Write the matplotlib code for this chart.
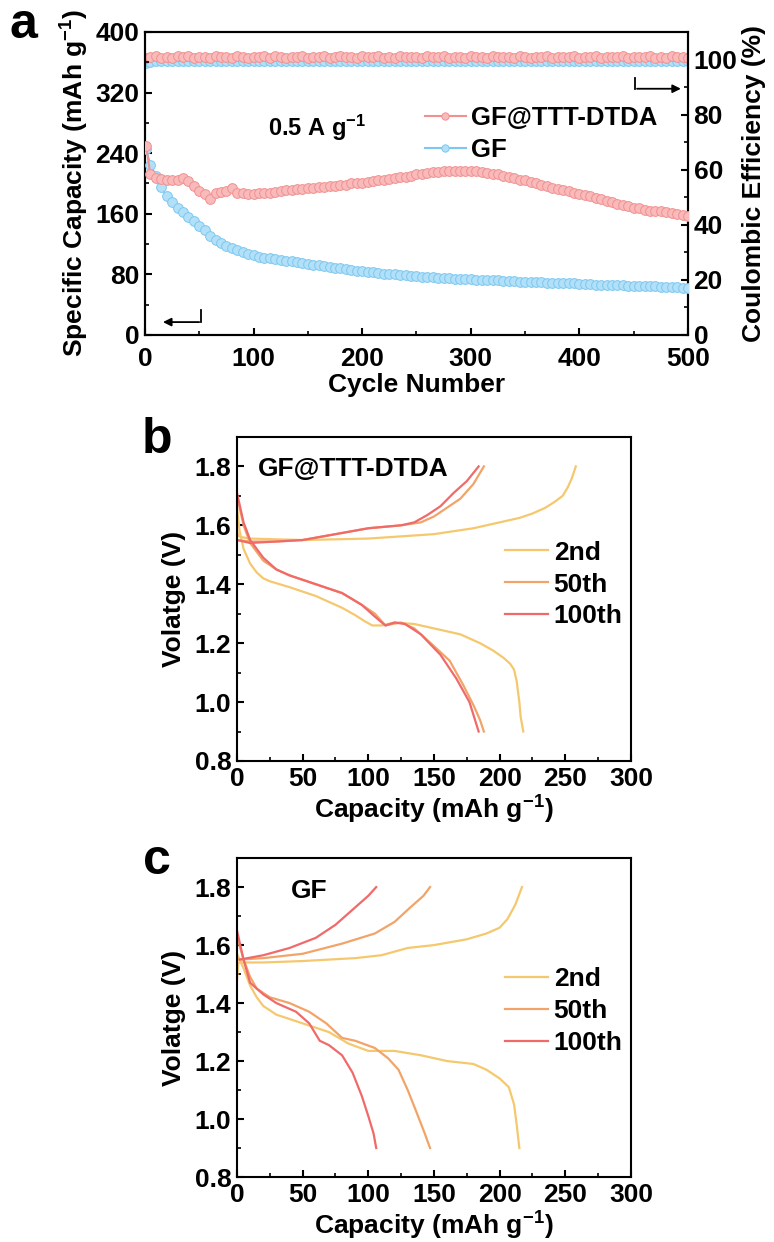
import matplotlib
matplotlib.use("Agg")
import matplotlib.pyplot as plt
import numpy as np

plt.rcParams['font.family'] = ['Liberation Sans', 'DejaVu Sans']
plt.rcParams['font.weight'] = 'bold'
plt.rcParams['mathtext.fontset'] = 'custom'
plt.rcParams['mathtext.rm'] = 'Liberation Sans:bold'
plt.rcParams['mathtext.it'] = 'Liberation Sans:bold'
plt.rcParams['mathtext.bf'] = 'Liberation Sans:bold'
plt.rcParams['mathtext.default'] = 'rm'
plt.rcParams['axes.linewidth'] = 1.5

# ---------------- Panel a data ----------------
cycles = [1] + list(range(5, 501, 5))
cap_ttt = [250, 212, 207, 206, 205, 204, 205, 207, 203, 196, 190, 186, 180, 188, 189, 190, 194, 188, 187, 186,
           186, 187, 188, 188, 189, 190, 191, 192, 193, 193, 194, 194, 195, 195, 196, 197, 198, 198, 200, 200,
           201, 202, 203, 204, 205, 206, 207, 208, 209, 210, 212, 213, 214, 215, 215, 216, 216, 216, 216, 217,
           217, 216, 215, 214, 213, 212, 210, 208, 207, 205, 204, 202, 200, 198, 196, 194, 193, 191, 190, 188,
           186, 185, 183, 181, 179, 177, 175, 173, 171, 170, 168, 167, 165, 164, 164, 163, 162, 161, 160, 158, 157]
cap_gf = [245, 225, 210, 195, 183, 175, 168, 162, 156, 150, 144, 138, 130, 126, 122, 118, 115, 112, 110, 107,
          105, 103, 102, 101, 100, 99, 98, 97, 96, 95, 94, 93, 92, 91, 90, 89, 88, 87, 86, 85,
          84, 83, 82.5, 82, 81, 80.5, 80, 79, 78.5, 78, 77.5, 77, 76.5, 76, 75.5, 75, 75, 74.5, 74, 74,
          73.5, 73, 73, 72.5, 72, 72, 71.5, 71, 71, 70.5, 70, 70, 69.5, 69.5, 69, 69, 68.5, 68, 68, 68,
          67.5, 67, 67, 66.5, 66.5, 66, 66, 65.5, 65.5, 65, 65, 64.5, 64.5, 64, 64, 63.5, 63.5, 63, 63, 62.5, 62]
ce_ttt = [100.4, 100.9, 101.2, 100.7, 101.0, 100.6, 101.1, 100.8, 101.3, 100.7, 100.9, 101.0, 100.6, 101.4, 100.8,
          101.0, 100.7, 101.2, 100.9, 100.6, 101.0, 100.8, 101.1, 100.7, 101.2, 100.9, 100.6, 101.0, 100.8, 101.1,
          100.7, 101.0, 100.9, 101.2, 100.6, 100.9, 101.1, 100.8, 101.0, 100.7, 101.1, 100.8, 100.9, 101.2, 100.7,
          101.0, 100.6, 101.1, 100.9, 100.8, 101.0, 100.7, 101.2, 100.9, 100.8, 101.1, 100.7, 101.0, 100.9, 100.6,
          101.1, 100.8, 101.0, 100.7, 101.2, 100.9, 100.8, 101.0, 100.7, 101.1, 100.9, 100.6, 101.0, 100.8, 101.2,
          100.7, 101.0, 100.9, 100.8, 101.1, 100.7, 101.0, 100.9, 101.2, 100.6, 100.9, 101.0, 100.8, 101.1, 100.7,
          101.0, 100.8, 100.9, 101.2, 100.7, 101.0, 100.6, 101.1, 100.8, 100.9, 100.7]
ce_gf = [98.6, 99.2, 99.4, 99.3, 99.5, 99.4, 99.3, 99.5, 99.4, 99.6, 99.3, 99.4, 99.5, 99.3, 99.4, 99.5, 99.4,
         99.3, 99.5, 99.4, 99.4, 99.5, 99.3, 99.4, 99.5, 99.4, 99.3, 99.5, 99.4, 99.4, 99.5, 99.3, 99.4, 99.5,
         99.4, 99.3, 99.5, 99.4, 99.4, 99.5, 99.3, 99.4, 99.5, 99.4, 99.3, 99.5, 99.4, 99.4, 99.5, 99.3, 99.4,
         99.5, 99.4, 99.3, 99.5, 99.4, 99.4, 99.5, 99.3, 99.4, 99.5, 99.4, 99.3, 99.5, 99.4, 99.4, 99.5, 99.3,
         99.4, 99.5, 99.4, 99.3, 99.5, 99.4, 99.4, 99.5, 99.3, 99.4, 99.5, 99.4, 99.3, 99.5, 99.4, 99.4, 99.5,
         99.3, 99.4, 99.5, 99.4, 99.3, 99.5, 99.4, 99.4, 99.5, 99.3, 99.4, 99.5, 99.4, 99.3, 99.5, 99.4]

# ---------------- Panel b data (GF@TTT-DTDA) ----------------
b2_dis_x = [0, 2, 5, 10, 15, 20, 25, 40, 60, 80, 90, 97, 103, 110, 120, 135, 150, 170, 185, 195, 203, 208, 211, 213, 215, 216, 218]
b2_dis_y = [1.66, 1.58, 1.52, 1.47, 1.44, 1.42, 1.41, 1.39, 1.36, 1.32, 1.295, 1.275, 1.26, 1.26, 1.27, 1.265, 1.25, 1.23, 1.20, 1.175, 1.15, 1.13, 1.11, 1.07, 1.0, 0.95, 0.90]
b2_chg_x = [0, 1, 3, 10, 50, 100, 150, 180, 200, 215, 225, 235, 242, 248, 252, 255, 258]
b2_chg_y = [1.58, 1.565, 1.56, 1.555, 1.55, 1.555, 1.57, 1.59, 1.61, 1.625, 1.64, 1.66, 1.68, 1.70, 1.73, 1.76, 1.80]
b50_dis_x = [0, 5, 10, 20, 30, 40, 60, 80, 95, 105, 113, 118, 125, 135, 150, 162, 172, 180, 185, 188]
b50_dis_y = [1.70, 1.60, 1.54, 1.48, 1.45, 1.43, 1.40, 1.37, 1.33, 1.30, 1.26, 1.265, 1.27, 1.25, 1.19, 1.14, 1.06, 0.99, 0.94, 0.90]
b50_chg_x = [0, 10, 30, 50, 75, 100, 125, 140, 150, 160, 170, 180, 188]
b50_chg_y = [1.55, 1.545, 1.545, 1.55, 1.57, 1.59, 1.60, 1.61, 1.63, 1.66, 1.69, 1.74, 1.80]
b100_dis_x = [0, 5, 10, 20, 30, 40, 60, 80, 95, 105, 113, 120, 128, 140, 155, 167, 177, 184]
b100_dis_y = [1.71, 1.61, 1.55, 1.49, 1.45, 1.43, 1.40, 1.37, 1.33, 1.29, 1.26, 1.27, 1.265, 1.23, 1.16, 1.08, 1.00, 0.90]
b100_chg_x = [0, 10, 30, 50, 75, 100, 125, 135, 145, 155, 165, 175, 184]
b100_chg_y = [1.55, 1.54, 1.545, 1.55, 1.57, 1.59, 1.60, 1.61, 1.635, 1.665, 1.71, 1.75, 1.80]

# ---------------- Panel c data (GF) ----------------
c2_dis_x = [0, 5, 10, 15, 20, 30, 50, 70, 85, 100, 110, 120, 140, 160, 180, 190, 200, 207, 211, 213, 215]
c2_dis_y = [1.57, 1.52, 1.46, 1.42, 1.39, 1.36, 1.33, 1.30, 1.26, 1.235, 1.235, 1.235, 1.22, 1.20, 1.19, 1.17, 1.14, 1.11, 1.05, 0.98, 0.90]
c2_chg_x = [0, 1, 20, 50, 90, 110, 130, 150, 175, 190, 200, 206, 212, 217]
c2_chg_y = [1.48, 1.54, 1.54, 1.545, 1.555, 1.565, 1.59, 1.60, 1.62, 1.64, 1.66, 1.69, 1.74, 1.80]
c50_dis_x = [0, 5, 10, 15, 25, 40, 55, 68, 80, 90, 105, 115, 123, 130, 137, 143, 147]
c50_dis_y = [1.63, 1.55, 1.49, 1.45, 1.42, 1.40, 1.37, 1.33, 1.28, 1.27, 1.245, 1.21, 1.17, 1.10, 1.02, 0.95, 0.90]
c50_chg_x = [2, 20, 50, 80, 105, 120, 132, 142, 147]
c50_chg_y = [1.55, 1.555, 1.57, 1.605, 1.64, 1.68, 1.73, 1.77, 1.80]
c100_dis_x = [0, 5, 10, 20, 30, 45, 55, 63, 70, 80, 88, 95, 100, 104, 106]
c100_dis_y = [1.65, 1.55, 1.47, 1.43, 1.40, 1.37, 1.33, 1.27, 1.255, 1.22, 1.16, 1.08, 1.01, 0.95, 0.90]
c100_chg_x = [2, 20, 40, 60, 75, 90, 100, 106]
c100_chg_y = [1.55, 1.565, 1.59, 1.625, 1.67, 1.73, 1.77, 1.80]

cycle_labels = ['2nd', '50th', '100th']
col_cycles = ['#f5c86e', '#f2a468', '#f06a6a']
pink_face, pink_edge = '#f8baba', '#f29090'
blue_face, blue_edge = '#b2e0f8', '#7cc8f0'

fig = plt.figure(figsize=(7.74, 12.42), dpi=100)

TICK_FS = 19
LAB_FS = 19

# ---------------- Panel a ----------------
ax = fig.add_axes([0.1873, 0.7303, 0.7016, 0.2440])
ax2 = ax.twinx()
ms = 7
ax2.plot(cycles, ce_gf, '-o', color=blue_edge, mfc=blue_face, mec=blue_edge, ms=ms, mew=0.7, lw=1.5)
ax2.plot(cycles, ce_ttt, '-o', color=pink_edge, mfc=pink_face, mec=pink_edge, ms=ms, mew=0.7, lw=1.5)
ax.plot(cycles, cap_gf, '-o', color=blue_edge, mfc=blue_face, mec=blue_edge, ms=ms, mew=0.7, lw=1.5, label='GF', zorder=3)
ax.plot(cycles, cap_ttt, '-o', color=pink_edge, mfc=pink_face, mec=pink_edge, ms=ms, mew=0.7, lw=1.5, label='GF@TTT-DTDA', zorder=4)
ax.set_zorder(ax2.get_zorder() + 1)
ax.patch.set_visible(False)

ax.set_xlim(0, 500)
ax.set_ylim(0, 400)
ax2.set_ylim(0, 110)
ax.set_xticks(range(0, 501, 100))
ax.set_xticks(range(50, 501, 100), minor=True)
ax.set_yticks(range(0, 401, 80))
ax.set_yticks(range(40, 401, 80), minor=True)
ax2.set_yticks(range(0, 101, 20))
ax2.set_yticks(range(10, 111, 20), minor=True)
for a in (ax, ax2):
    a.tick_params(which='major', direction='in', length=5, width=1.5, labelsize=TICK_FS, pad=4)
    a.tick_params(which='minor', direction='in', length=3, width=1.2)
ax.tick_params(axis='x', pad=9)
ax.tick_params(top=False, right=False)
ax.set_xlabel('Cycle Number', fontsize=LAB_FS, fontweight='bold', labelpad=1)
ax.set_ylabel('Specific Capacity (mAh g$^{-1}$)', fontsize=LAB_FS, fontweight='bold', labelpad=3)
ax2.set_ylabel('Coulombic Efficiency (%)', fontsize=LAB_FS, fontweight='bold', labelpad=3)

ax.text(158, 273, '0.5 A g$^{-1}$', fontsize=17, fontweight='bold', ha='center', va='center')

h, l = ax.get_legend_handles_labels()
ax.legend(h[::-1], l[::-1], loc='upper left', bbox_to_anchor=(0.515, 0.755), frameon=False,
          fontsize=18.5, handlelength=1.6, handletextpad=0.2, borderaxespad=0, borderpad=0,
          labelspacing=0.3, numpoints=1, markerscale=0.75)

# arrows
ax.plot([52, 52], [33, 17], color='black', lw=1.3)
ax.annotate('', xy=(14, 17), xytext=(52.5, 17),
            arrowprops=dict(arrowstyle='-|>', color='black', lw=1.3, mutation_scale=12))
ax.plot([451, 451], [339, 325], color='black', lw=1.3)
ax.annotate('', xy=(496, 325), xytext=(450.5, 325),
            arrowprops=dict(arrowstyle='-|>', color='black', lw=1.3, mutation_scale=12))

fig.text(0.012, 0.998, 'a', fontsize=36, fontweight='bold', ha='left', va='top')


def style_vc(axv, title, tx, ty, leg_top):
    axv.set_xlim(0, 300)
    axv.set_ylim(0.8, 1.9)
    axv.set_xticks(range(0, 301, 50))
    axv.set_xticks(range(25, 301, 50), minor=True)
    axv.set_yticks([0.8, 1.0, 1.2, 1.4, 1.6, 1.8])
    axv.set_yticks([0.9, 1.1, 1.3, 1.5, 1.7], minor=True)
    axv.set_yticklabels(['0.8', '1.0', '1.2', '1.4', '1.6', '1.8'])
    axv.tick_params(which='major', direction='in', length=5, width=1.5, labelsize=TICK_FS, pad=4)
    axv.tick_params(which='minor', direction='in', length=3, width=1.2)
    axv.set_xlabel('Capacity (mAh g$^{-1}$)', fontsize=LAB_FS, fontweight='bold', labelpad=2)
    axv.set_ylabel('Volatge (V)', fontsize=LAB_FS, fontweight='bold', labelpad=6)
    axv.text(tx, ty, title, fontsize=19, fontweight='bold', ha='left', va='center')
    axv.legend(loc='upper left', bbox_to_anchor=(0.68, leg_top), frameon=False, fontsize=19,
               handlelength=1.65, handletextpad=0.2, borderaxespad=0, borderpad=0, labelspacing=0.3)


# ---------------- Panel b ----------------
axb = fig.add_axes([0.3062, 0.3873, 0.5090, 0.2609])
axb.plot(b2_dis_x, b2_dis_y, color=col_cycles[0], lw=1.6, label=cycle_labels[0])
axb.plot(b2_chg_x, b2_chg_y, color=col_cycles[0], lw=1.6)
axb.plot(b50_dis_x, b50_dis_y, color=col_cycles[1], lw=1.6, label=cycle_labels[1])
axb.plot(b50_chg_x, b50_chg_y, color=col_cycles[1], lw=1.6)
axb.plot(b100_dis_x, b100_dis_y, color=col_cycles[2], lw=1.6, label=cycle_labels[2])
axb.plot(b100_chg_x, b100_chg_y, color=col_cycles[2], lw=1.6)
style_vc(axb, 'GF@TTT-DTDA', 16, 1.79, 0.68)
fig.text(0.183, 0.664, 'b', fontsize=36, fontweight='bold', ha='left', va='top')

# ---------------- Panel c ----------------
axc = fig.add_axes([0.3062, 0.0523, 0.5090, 0.2568])
axc.plot(c2_dis_x, c2_dis_y, color=col_cycles[0], lw=1.6, label=cycle_labels[0])
axc.plot(c2_chg_x, c2_chg_y, color=col_cycles[0], lw=1.6)
axc.plot(c50_dis_x, c50_dis_y, color=col_cycles[1], lw=1.6, label=cycle_labels[1])
axc.plot(c50_chg_x, c50_chg_y, color=col_cycles[1], lw=1.6)
axc.plot(c100_dis_x, c100_dis_y, color=col_cycles[2], lw=1.6, label=cycle_labels[2])
axc.plot(c100_chg_x, c100_chg_y, color=col_cycles[2], lw=1.6)
style_vc(axc, 'GF', 41, 1.785, 0.658)
fig.text(0.185, 0.325, 'c', fontsize=36, fontweight='bold', ha='left', va='top')

fig.savefig('out.png', dpi=100)
